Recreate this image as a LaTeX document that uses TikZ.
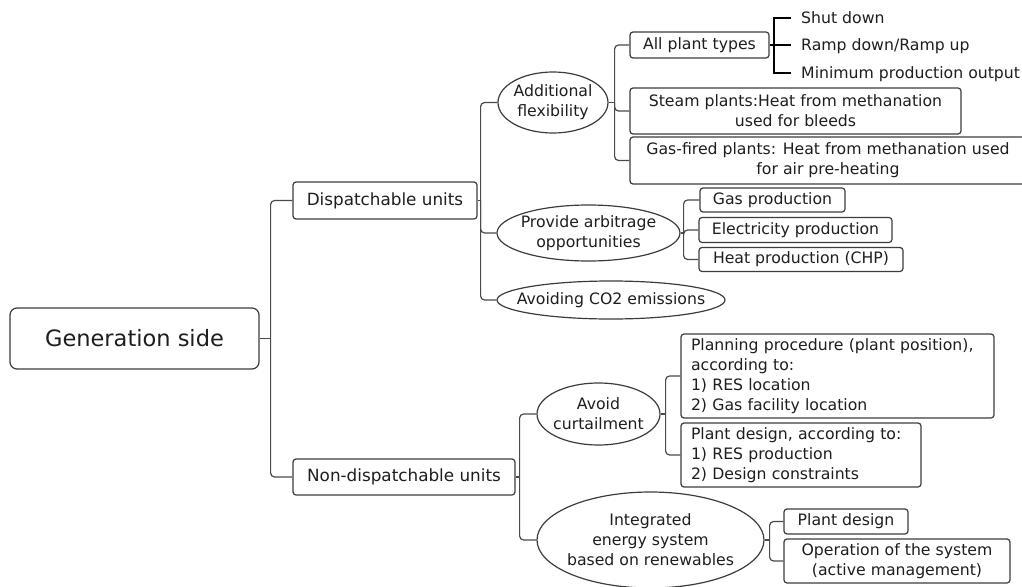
\documentclass[tikz,border=0pt]{standalone}
\usepackage{fontspec}
\setmainfont{DejaVu Sans}
\usetikzlibrary{shapes.geometric}
\definecolor{bdr}{HTML}{3C3C3C}
\definecolor{lnk}{HTML}{4A4A4A}
\definecolor{txt}{HTML}{1E1E1E}
\begin{document}
\begin{tikzpicture}[x=1pt,y=-1pt,
  every node/.style={font=\fontsize{15.7}{20}\selectfont, text=txt},
  box/.style={draw=bdr, line width=1.2pt, rounded corners=3pt, inner sep=0pt, align=center},
  lvl1/.style={box, font=\fontsize{16.8}{20}\selectfont},
  oval/.style={draw=bdr, line width=1.2pt, ellipse, inner xsep=-30pt, inner ysep=-15pt, align=center},
  link/.style={draw=lnk, line width=1.2pt, rounded corners=4pt},
  plain/.style={draw=lnk, line width=1.2pt},
  bracket/.style={draw=black, line width=2.2pt, line join=miter},
]
\fill[white] (0,0) rectangle (1022,586);
\useasboundingbox (0,0) rectangle (1022,586);

% nodes
\node[box, rounded corners=7pt, minimum width=249pt, minimum height=61pt, font=\fontsize{22.5}{27}\selectfont] (root) at (134.5,338.5) {Generation side};
\node[lvl1, minimum width=184pt, minimum height=37pt] (disp) at (385,200.5) {Dispatchable units};
\node[lvl1, minimum width=222pt, minimum height=36pt] (nondisp) at (404,477) {Non-dispatchable units};

\node[oval, minimum width=110pt, minimum height=61pt] (flex) at (553,102.5) {Additional\\flexibility};
\node[oval, minimum width=183pt, minimum height=56pt] (arb) at (588.5,233) {Provide arbitrage\\opportunities};
\node[oval, minimum width=228pt, minimum height=38pt] (co2) at (611,300) {Avoiding CO2 emissions};

\node[box, minimum width=139pt, minimum height=26pt] (allp) at (699.5,45) {All plant types};
\node[box, minimum width=331pt, minimum height=46pt] (steam) at (795.5,111) {Steam plants:Heat from methanation\\used for bleeds};
\node[box, minimum width=396pt, minimum height=47pt] (gasf) at (828,160.5) {Gas-fired plants: Heat from methanation used\\for air pre-heating};

\node[anchor=base west, inner sep=0pt] (s1) at (801,23.7) {Shut down};
\node[anchor=base west, inner sep=0pt] (s2) at (801,50.7) {Ramp down/Ramp up};
\node[anchor=base west, inner sep=0pt] (s3) at (801,78.5) {Minimum production output};

\node[box, minimum width=145pt, minimum height=24pt] (gasp) at (772.5,200) {Gas production};
\node[box, minimum width=193pt, minimum height=25pt] (elec) at (795.5,230) {Electricity production};
\node[box, minimum width=204pt, minimum height=24pt] (heat) at (801,259.5) {Heat production (CHP)};

\node[oval, minimum width=123pt, minimum height=62pt] (avoid) at (598.5,414) {Avoid\\curtailment};
\node[oval, minimum width=227pt, minimum height=96pt] (integ) at (650.5,540) {Integrated\\energy system\\based on renewables};

\node[box, minimum width=313pt, minimum height=84pt, inner xsep=10pt, text width=293pt, align=left] (plan) at (837.5,376) {Planning procedure (plant position),\\according to:\\1) RES location\\2) Gas facility location};
\node[box, minimum width=240pt, minimum height=64pt, inner xsep=10pt, text width=220pt, align=left] (pdes) at (801,455) {Plant design, according to:\\1) RES production\\2) Design constraints};
\node[box, minimum width=124pt, minimum height=25pt] (pdes2) at (846,521.5) {Plant design};
\node[box, minimum width=226pt, minimum height=44pt] (oper) at (897,561) {Operation of the system\\(active management)};

% connectors
\coordinate (j0) at ([xshift=11pt]root.east);
\draw[plain] (root.east) -- (j0);
\draw[link] (j0) |- (disp.west);
\draw[link] (j0) |- (nondisp.west);

\coordinate (j1) at ([xshift=3pt]disp.east);
\draw[plain] (disp.east) -- (j1);
\draw[link] (j1) |- (flex.west);
\draw[link] (j1) |- (arb.west);
\draw[link] (j1) |- (co2.west);

\coordinate (j2) at ([xshift=4pt]nondisp.east);
\draw[plain] (nondisp.east) -- (j2);
\draw[link] (j2) |- (avoid.west);
\draw[link] (j2) |- (integ.west);

\coordinate (j3) at ([xshift=6pt]flex.east);
\draw[plain] (flex.east) -- (j3);
\draw[link] (j3) |- (allp.west);
\draw[link] (j3) |- (steam.west);
\draw[link] (j3) |- (gasf.west);

\coordinate (j4) at ([xshift=3pt]arb.east);
\draw[plain] (arb.east) -- (j4);
\draw[link] (j4) |- (gasp.west);
\draw[link] (j4) |- (elec.west);
\draw[link] (j4) |- (heat.west);

\coordinate (j5) at ([xshift=5pt]avoid.east);
\draw[plain] (avoid.east) -- (j5);
\draw[link] (j5) |- (plan.west);
\draw[link] (j5) |- (pdes.west);

\coordinate (j6) at ([xshift=5pt]integ.east);
\draw[plain] (integ.east) -- (j6);
\draw[link] (j6) |- (pdes2.west);
\draw[link] (j6) |- (oper.west);

% bracket
\coordinate (bk) at ([xshift=4pt]allp.east);
\draw[bracket] (allp.east) -- (bk);
\draw[bracket] ([shift={(-10pt,5.7pt)}]s1.base west) -| (bk) |- ([shift={(-10pt,5.7pt)}]s3.base west);
\draw[bracket] (bk) -- ([shift={(-10pt,5.7pt)}]s2.base west);
\end{tikzpicture}
\end{document}
